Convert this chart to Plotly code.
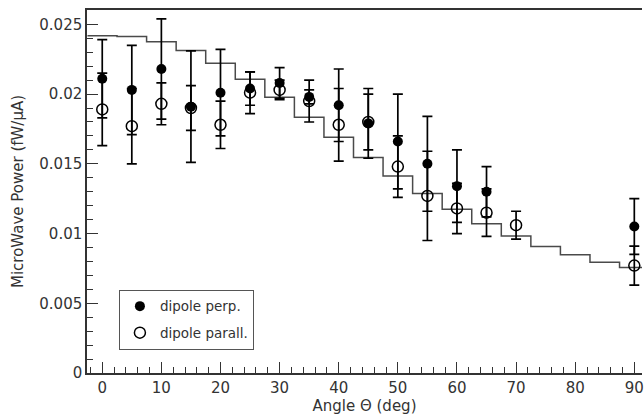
import plotly.graph_objects as go

# ---- data ----
angle_perp = [0, 5, 10, 15, 20, 25, 30, 35, 40, 45, 50, 55, 60, 65, 90]
power_perp = [0.0211, 0.0203, 0.0218, 0.0191, 0.0201, 0.0204, 0.0208, 0.0198,
              0.0192, 0.0179, 0.0166, 0.0150, 0.0134, 0.0130, 0.0105]
err_perp = [0.0028, 0.0032, 0.0036, 0.0040, 0.0031, 0.0012, 0.0011, 0.0005,
            0.0026, 0.0025, 0.0034, 0.0034, 0.0026, 0.0018, 0.0020]

angle_par = [0, 5, 10, 15, 20, 25, 30, 35, 40, 45, 50, 55, 60, 65, 70, 90]
power_par = [0.0189, 0.0177, 0.0193, 0.0190, 0.0178, 0.0201, 0.0203, 0.0195,
             0.0178, 0.0180, 0.0148, 0.0127, 0.0118, 0.0115, 0.0106, 0.0077]
err_par = [0.0026, 0.0027, 0.0015, 0.0016, 0.0017, 0.0015, 0.0007, 0.0015,
           0.0026, 0.0020, 0.0022, 0.0032, 0.0018, 0.0017, 0.0010, 0.0014]

# simulation histogram (bin centres and contents)
hist_centers = [0, 5, 10, 15, 20, 25, 30, 35, 40, 45, 50, 55, 60, 65, 70, 75, 80, 85, 90]
hist_values = [0.02419, 0.02413, 0.02376, 0.02312, 0.02221, 0.02107, 0.01978,
               0.01834, 0.01690, 0.01545, 0.01412, 0.01287, 0.01175, 0.01070,
               0.00982, 0.00907, 0.00848, 0.00795, 0.00757]
bin_width = 5

x_ticks = [0, 10, 20, 30, 40, 50, 60, 70, 80, 90]
y_ticks = [0, 0.005, 0.01, 0.015, 0.02, 0.025]
y_tick_text = ["0", "0.005", "0.01", "0.015", "0.02", "0.025"]

# step outline from histogram bins
step_x = [c - bin_width / 2 for c in hist_centers] + [hist_centers[-1] + bin_width / 2]
step_y = hist_values + [hist_values[-1]]

FONT = "DejaVu Sans"
TXT = "#333333"

fig = go.Figure()

fig.add_trace(go.Scatter(
    x=step_x, y=step_y, mode="lines", line=dict(shape="hv", color="#4a4a4a", width=1.5),
    showlegend=False, hoverinfo="skip"))

fig.add_trace(go.Scatter(
    x=angle_perp, y=power_perp, mode="markers", name="dipole perp.",
    legendgroup="a",
    marker=dict(symbol="circle", size=10, color="black"),
    error_y=dict(type="data", array=err_perp, color="black", thickness=1.7, width=5)))

fig.add_trace(go.Scatter(
    x=angle_par, y=power_par, mode="markers", name="dipole parall.",
    legendgroup="b",
    marker=dict(symbol="circle-open", size=11, color="black", line=dict(width=1.5)),
    error_y=dict(type="data", array=err_par, color="black", thickness=1.7, width=5)))

fig.update_layout(
    width=644, height=419,
    margin=dict(l=87, r=0, t=10, b=46),
    paper_bgcolor="white", plot_bgcolor="white",
    font=dict(family=FONT, size=14, color=TXT),
    showlegend=True,
    legend=dict(x=0.0575, y=0.229, xanchor="left", yanchor="top",
                bordercolor="#555555", borderwidth=1, bgcolor="white",
                font=dict(family=FONT, size=13.5, color=TXT),
                tracegroupgap=6, itemwidth=30),
    xaxis=dict(
        range=[-2.58, 91.3], showgrid=False, zeroline=False,
        tickmode="array", tickvals=x_ticks, ticks="inside", ticklen=11,
        tickcolor="#333333", tickwidth=1.3, ticklabeloverflow="allow",
        minor=dict(ticks="inside", ticklen=6, dtick=2, tick0=0, tickcolor="#333333", tickwidth=1),
        showline=True, linecolor="#333333", linewidth=2, mirror=True,
        tickfont=dict(family=FONT, size=15, color=TXT),
        title=dict(text="Angle Θ (deg)", font=dict(family=FONT, size=15, color=TXT), standoff=4),
    ),
    yaxis=dict(
        range=[0, 0.02603], showgrid=False, zeroline=False,
        tickmode="array", tickvals=y_ticks, ticktext=y_tick_text,
        ticks="inside", ticklen=11, tickcolor="#333333", tickwidth=1.3,
        minor=dict(ticks="inside", ticklen=6, dtick=0.001, tick0=0, tickcolor="#333333", tickwidth=1),
        showline=True, linecolor="#333333", linewidth=1.5, mirror=False,
        tickfont=dict(family=FONT, size=15, color=TXT),
        title=dict(text="MicroWave Power (fW/μA)", font=dict(family=FONT, size=15, color=TXT), standoff=12),
    ),
)

fig.write_html("out.html", config={"displayModeBar": False},
               post_script="document.body.style.margin='0';document.body.style.overflow='hidden';")
